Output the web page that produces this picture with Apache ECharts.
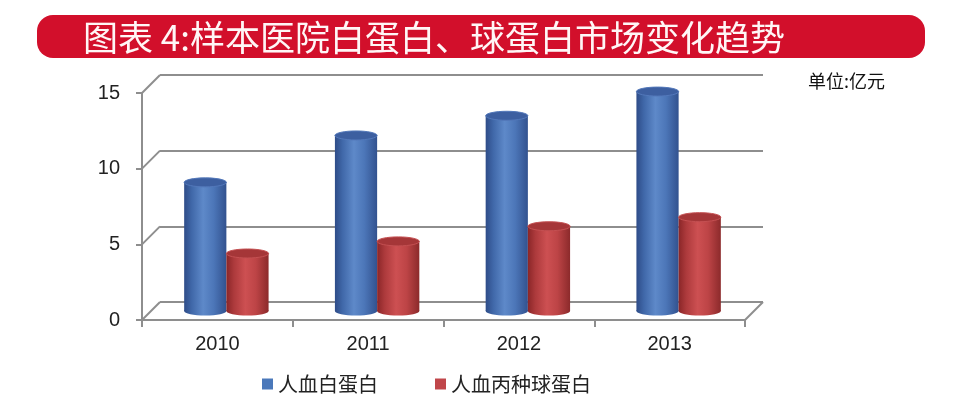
<!DOCTYPE html>
<html>
<head>
<meta charset="utf-8">
<script src="https://cdn.jsdelivr.net/npm/echarts@6/dist/echarts.min.js"></script>
<style>
html,body{margin:0;padding:0;background:#fff;}
#chart{width:956px;height:394px;}
</style>
</head>
<body>
<div id="chart"></div>
<script>
// ---- data ----
const categories = ['2010', '2011', '2012', '2013'];
const albumin = [8.5, 11.6, 12.9, 14.5];     // 人血白蛋白
const globulin = [3.8, 4.6, 5.6, 6.2];       // 人血丙种球蛋白
const yTicks = [0, 5, 10, 15];
const seriesNames = ['人血白蛋白', '人血丙种球蛋白'];
const titleText = '图表 4:样本医院白蛋白、球蛋白市场变化趋势';
const unitText = '单位:亿元';

// ---- style ----
const DEPTH = 18;            // 3D depth offset in px
const GRID_COLOR = '#8e8e8e';
const LABEL_FONT = '"Liberation Sans", Arial, sans-serif';
const CJK_FONT = '"Noto Sans CJK SC", "Noto Sans", sans-serif';

const palettes = {
  blue: {
    legend: '#4a78ba',
    body: [[0, '#2e4c88'], [0.18, '#4068a9'], [0.45, '#5e89c9'], [0.7, '#4c76b8'], [1, '#32528f']],
    top: '#3d5fa0', topStroke: '#5378ba'
  },
  red: {
    legend: '#c0464a',
    body: [[0, '#8a2628'], [0.18, '#ad3a3c'], [0.45, '#cd5052'], [0.7, '#bd4446'], [1, '#8c2a2b']],
    top: '#a53638', topStroke: '#c45052'
  }
};

function grad(stops) {
  return new echarts.graphic.LinearGradient(0, 0, 1, 0,
    stops.map(s => ({ offset: s[0], color: s[1] })));
}

function cylinderRenderer(pal, side) {
  return function (params, api) {
    const idx = api.value(0);
    const val = api.value(1);
    const top = api.coord([idx, val]);
    const base = api.coord([idx, 0]);
    const catW = api.size([1, 0])[0];
    const w = catW * 0.28;
    const cx = top[0] + side * w / 2;
    const x = cx - w / 2;
    const ry = 4.5;
    return {
      type: 'group',
      children: [
        { type: 'ellipse', shape: { cx: cx, cy: base[1], rx: w / 2, ry: ry }, style: { fill: grad(pal.body) } },
        { type: 'rect', shape: { x: x, y: top[1], width: w, height: base[1] - top[1] }, style: { fill: grad(pal.body) } },
        { type: 'ellipse', shape: { cx: cx, cy: top[1], rx: w / 2, ry: ry }, style: { fill: pal.top, stroke: pal.topStroke, lineWidth: 1 } }
      ]
    };
  };
}

function frameRenderer(params, api) {
  const cs = params.coordSys;
  const v = api.value(1);
  const y = api.coord([0, v])[1];
  const children = [
    { type: 'line', shape: { x1: cs.x, y1: y, x2: cs.x + DEPTH, y2: y - DEPTH },
      style: { stroke: GRID_COLOR, lineWidth: 2 } }
  ];
  if (v === 0) {
    children.push({ type: 'line',
      shape: { x1: cs.x + cs.width, y1: y, x2: cs.x + cs.width + DEPTH, y2: y - DEPTH },
      style: { stroke: GRID_COLOR, lineWidth: 2 } });
  }
  return { type: 'group', children: children };
}

const chart = echarts.init(document.getElementById('chart'), null, { renderer: 'canvas' });

const valueAxisBase = { type: 'value', min: 0, max: 15, interval: 5 };

chart.setOption({
  animation: false,
  backgroundColor: '#ffffff',
  title: [
    {
      text: titleText, left: 83, top: 20, padding: 0,
      textStyle: { color: '#fff6f6', fontSize: 35, fontWeight: 'normal', fontFamily: CJK_FONT }
    },
    {
      text: unitText, left: 808, top: 72, padding: 0,
      textStyle: { color: '#111', fontSize: 18, fontWeight: 'normal', fontFamily: CJK_FONT }
    }
  ],
  graphic: [
    {
      type: 'rect', z: 0, silent: true,
      shape: { x: 37, y: 15, width: 888, height: 43, r: 16 },
      style: { fill: '#d20f2b' }
    }
  ],
  legend: {
    data: seriesNames,
    left: 257, top: 369,
    itemWidth: 11, itemHeight: 11, itemGap: 57,
    icon: 'rect',
    textStyle: { fontSize: 20, color: '#222', fontFamily: CJK_FONT }
  },
  grid: [
    { left: 160, top: 75, width: 603, height: 227 },   // back wall
    { left: 142, top: 93, width: 603, height: 227 },   // front axes
    { left: 151, top: 84, width: 603, height: 227 }    // bars (mid depth)
  ],
  xAxis: [
    { type: 'category', gridIndex: 0, data: categories, show: false },
    {
      type: 'category', gridIndex: 1, data: categories,
      axisLine: { show: true, lineStyle: { color: GRID_COLOR, width: 2 } },
      axisTick: { show: true, interval: 0, alignWithLabel: false, length: 7, lineStyle: { color: GRID_COLOR, width: 2 } },
      axisLabel: { fontSize: 20, color: '#222', margin: 14, fontFamily: LABEL_FONT }
    },
    { type: 'category', gridIndex: 2, data: categories, show: false }
  ],
  yAxis: [
    Object.assign({}, valueAxisBase, {
      gridIndex: 0,
      axisLine: { show: false }, axisTick: { show: false }, axisLabel: { show: false },
      splitLine: { show: true, lineStyle: { color: GRID_COLOR, width: 2 } }
    }),
    Object.assign({}, valueAxisBase, {
      gridIndex: 1,
      axisLine: { show: true, lineStyle: { color: GRID_COLOR, width: 2 } },
      axisTick: { show: true, length: 6, lineStyle: { color: GRID_COLOR, width: 2 } },
      axisLabel: { fontSize: 20, color: '#222', margin: 22, fontFamily: LABEL_FONT },
      splitLine: { show: false }
    }),
    Object.assign({}, valueAxisBase, { gridIndex: 2, show: false, splitLine: { show: false } })
  ],
  series: [
    {
      type: 'custom', name: 'frame', silent: true,
      xAxisIndex: 1, yAxisIndex: 1,
      data: yTicks.map(v => [0, v]),
      renderItem: frameRenderer, z: 1
    },
    {
      type: 'custom', name: seriesNames[0],
      xAxisIndex: 2, yAxisIndex: 2,
      itemStyle: { color: palettes.blue.legend },
      data: albumin.map((v, i) => [i, v]),
      renderItem: cylinderRenderer(palettes.blue, -1), z: 3
    },
    {
      type: 'custom', name: seriesNames[1],
      xAxisIndex: 2, yAxisIndex: 2,
      itemStyle: { color: palettes.red.legend },
      data: globulin.map((v, i) => [i, v]),
      renderItem: cylinderRenderer(palettes.red, 1), z: 3
    }
  ]
});
</script>
</body>
</html>
